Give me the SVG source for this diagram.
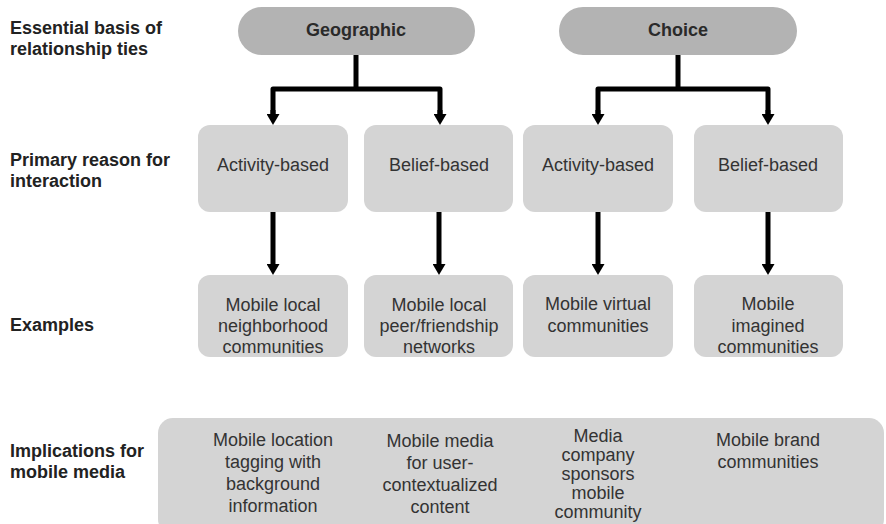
<svg xmlns="http://www.w3.org/2000/svg" width="886" height="524" viewBox="0 0 886 524">
<defs>
<marker id="ah" markerUnits="userSpaceOnUse" markerWidth="12" markerHeight="13" refX="1" refY="6.5" orient="auto" viewBox="0 0 12 13">
<path d="M0,0 L11,6.5 L0,13 Z" fill="#000"/>
</marker>
</defs>
<style>
.lbl{font-family:"Liberation Sans",Arial,sans-serif;font-size:18px;font-weight:bold;fill:#222}
.pill{fill:#b3b3b3}
.pt{font-family:"Liberation Sans",Arial,sans-serif;font-size:18px;font-weight:bold;fill:#2a2a2a;text-anchor:middle}
.box{fill:#d4d4d4}
.bt{font-family:"Liberation Sans",Arial,sans-serif;font-size:18px;fill:#333;text-anchor:middle}
.con{fill:none;stroke:#000;stroke-width:5;stroke-linejoin:round}
.arr{fill:none;stroke:#000;stroke-width:5}
</style>
<rect width="886" height="524" fill="#fff"/>
<g id="row-labels">
<text class="lbl" x="10" y="34">Essential basis of</text>
<text class="lbl" x="10" y="55">relationship ties</text>
<text class="lbl" x="10" y="166">Primary reason for</text>
<text class="lbl" x="10" y="187">interaction</text>
<text class="lbl" x="10" y="331">Examples</text>
<text class="lbl" x="10" y="457">Implications for</text>
<text class="lbl" x="10" y="478">mobile media</text>
</g>
<g id="geographic">
<rect class="pill" x="238" y="7" width="237" height="48" rx="24"/>
<text class="pt" x="356" y="36">Geographic</text>
</g>
<g id="choice">
<rect class="pill" x="559" y="7" width="238" height="48" rx="24"/>
<text class="pt" x="678" y="36">Choice</text>
</g>
<g id="geo-activity">
<rect class="box" x="198" y="125" width="150" height="87" rx="12"/>
<text class="bt" x="273" y="171">Activity-based</text>
</g>
<g id="geo-belief">
<rect class="box" x="364" y="125" width="149" height="87" rx="12"/>
<text class="bt" x="439" y="171">Belief-based</text>
</g>
<g id="choice-activity">
<rect class="box" x="523" y="125" width="150" height="87" rx="12"/>
<text class="bt" x="598" y="171">Activity-based</text>
</g>
<g id="choice-belief">
<rect class="box" x="694" y="125" width="149" height="87" rx="12"/>
<text class="bt" x="768" y="171">Belief-based</text>
</g>
<g id="ex-neighborhood">
<rect class="box" x="198" y="275" width="150" height="82" rx="12"/>
<text class="bt" x="273" y="311">Mobile local</text>
<text class="bt" x="273" y="332">neighborhood</text>
<text class="bt" x="273" y="353">communities</text>
</g>
<g id="ex-peer">
<rect class="box" x="364" y="275" width="149" height="82" rx="12"/>
<text class="bt" x="439" y="311">Mobile local</text>
<text class="bt" x="439" y="332">peer/friendship</text>
<text class="bt" x="439" y="353">networks</text>
</g>
<g id="ex-virtual">
<rect class="box" x="523" y="275" width="150" height="82" rx="12"/>
<text class="bt" x="598" y="310">Mobile virtual</text>
<text class="bt" x="598" y="332">communities</text>
</g>
<g id="ex-imagined">
<rect class="box" x="694" y="275" width="149" height="82" rx="12"/>
<text class="bt" x="768" y="310">Mobile</text>
<text class="bt" x="768" y="332">imagined</text>
<text class="bt" x="768" y="353">communities</text>
</g>
<g id="implications">
<rect class="box" x="158" y="418" width="726" height="116" rx="15"/>
<text class="bt" x="273" y="446">Mobile location</text>
<text class="bt" x="273" y="468">tagging with</text>
<text class="bt" x="273" y="490">background</text>
<text class="bt" x="273" y="512">information</text>
<text class="bt" x="440" y="447">Mobile media</text>
<text class="bt" x="440" y="469">for user-</text>
<text class="bt" x="440" y="491">contextualized</text>
<text class="bt" x="440" y="513">content</text>
<text class="bt" x="598" y="442">Media</text>
<text class="bt" x="598" y="461">company</text>
<text class="bt" x="598" y="480">sponsors</text>
<text class="bt" x="598" y="499">mobile</text>
<text class="bt" x="598" y="518">community</text>
<text class="bt" x="768" y="446">Mobile brand</text>
<text class="bt" x="768" y="468">communities</text>
</g>
<g id="connectors">
<path class="con" d="M356,55 V89"/>
<path class="con" d="M273,115 V89 H440 V115"/>
<path class="arr" d="M273,110 V115" marker-end="url(#ah)"/>
<path class="arr" d="M440,110 V115" marker-end="url(#ah)"/>
<path class="con" d="M678,55 V89"/>
<path class="con" d="M598,115 V89 H768 V115"/>
<path class="arr" d="M598,110 V115" marker-end="url(#ah)"/>
<path class="arr" d="M768,110 V115" marker-end="url(#ah)"/>
<path class="arr" d="M273,212 V265" marker-end="url(#ah)"/>
<path class="arr" d="M439,212 V265" marker-end="url(#ah)"/>
<path class="arr" d="M598,212 V265" marker-end="url(#ah)"/>
<path class="arr" d="M768,212 V265" marker-end="url(#ah)"/>
</g>
</svg>
